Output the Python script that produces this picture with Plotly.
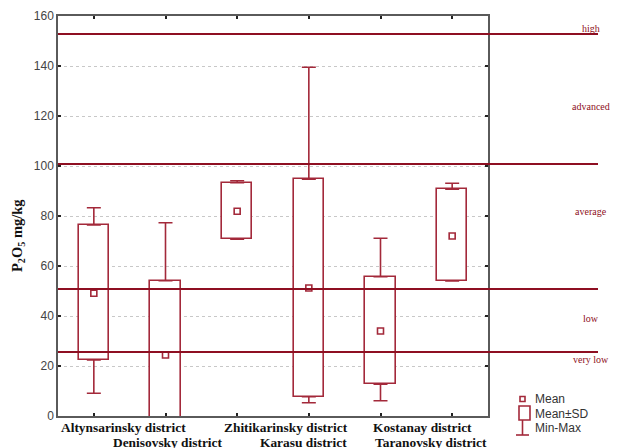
import plotly.graph_objects as go

# ---------------- data ----------------
districts = ["Altynsarinsky district", "Denisovsky district", "Zhitikarinsky district",
             "Karasu district", "Kostanay district", "Taranovsky district"]
mean_vals = [49.1, 24.4, 81.9, 51.2, 34.0, 72.0]
sd_lower = [22.4, -5.3, 70.7, 7.7, 12.7, 54.0]     # mean - SD
sd_upper = [76.4, 54.1, 93.3, 94.7, 55.7, 90.7]    # mean + SD
min_vals = [9.1, -5.3, 70.7, 5.3, 6.1, 54.0]
max_vals = [83.3, 77.3, 94.1, 139.5, 71.1, 93.1]

level_values = [152.8, 100.8, 50.8, 25.6]
level_names = ["high", "advanced", "average", "low", "very low"]
level_label_y = [155.2, 124.0, 82.0, 39.2, 22.8]

y_ticks = [0, 20, 40, 60, 80, 100, 120, 140, 160]

# ---------------- styling / layout ----------------
RED = "#a3293a"
DARKRED = "#8e0f22"
AXIS = "#5a5a5a"

# the page body adds an 8px offset; plot area in window: x 58..488, y 16..416
OFF = 8
PL, PT, PW, PH = 58, 16, 430, 400

# horizontal pixel shift of each category label relative to its tick (as in the original)
label_xshift = [30, 2.5, 49, -5, 42, -21]
label_row_y = [427.7, 442.0]

idx = list(range(len(districts)))

fig = go.Figure()

# Mean ± SD boxes
fig.add_trace(go.Bar(
    x=idx, y=[u - l for u, l in zip(sd_upper, sd_lower)], base=sd_lower,
    width=0.42, marker=dict(color="white", line=dict(color=RED, width=1.6)),
    showlegend=False, hoverinfo="skip"))

# upper whiskers (box top -> max)
fig.add_trace(go.Scatter(
    x=idx, y=sd_upper, mode="markers",
    marker=dict(size=1, color="rgba(0,0,0,0)"),
    error_y=dict(type="data", symmetric=False,
                 array=[max(0, mx - u) for mx, u in zip(max_vals, sd_upper)],
                 arrayminus=[0] * len(idx), color=RED, thickness=1.6, width=7),
    showlegend=False, hoverinfo="skip"))

# lower whiskers (box bottom -> min)
fig.add_trace(go.Scatter(
    x=idx, y=sd_lower, mode="markers",
    marker=dict(size=1, color="rgba(0,0,0,0)"),
    error_y=dict(type="data", symmetric=False,
                 array=[0] * len(idx),
                 arrayminus=[max(0, l - mn) for l, mn in zip(sd_lower, min_vals)],
                 color=RED, thickness=1.6, width=7),
    showlegend=False, hoverinfo="skip"))

# mean markers
fig.add_trace(go.Scatter(
    x=idx, y=mean_vals, mode="markers",
    marker=dict(symbol="square-open", size=6, color=RED, line=dict(width=1.6, color=RED)),
    showlegend=False, hoverinfo="skip"))


def px_x(p):
    return (p - PL) / PW


def px_y(p):
    return (PT + PH - p) / PH


# category labels (two staggered rows)
for i, d in enumerate(districts):
    fig.add_annotation(xref="x", yref="paper", x=i, y=px_y(label_row_y[i % 2]),
                       xshift=label_xshift[i], text="<b>" + d + "</b>",
                       showarrow=False, xanchor="center", yanchor="middle",
                       font=dict(family="Liberation Serif", size=13.4, color="#111"))

# level lines
for v in level_values:
    fig.add_shape(type="line", xref="paper", yref="y", x0=0, x1=px_x(598), y0=v, y1=v,
                  line=dict(color=DARKRED, width=2), layer="above")

for name, yv in zip(level_names, level_label_y):
    fig.add_annotation(xref="paper", yref="y", x=px_x(591), y=yv, text=name,
                       showarrow=False, xanchor="center", yanchor="middle",
                       font=dict(family="Liberation Serif", size=10, color=DARKRED))

# y-axis title
fig.add_annotation(xref="paper", yref="paper", x=px_x(18), y=px_y(236),
                   text="<b>P<sub>2</sub>O<sub>5</sub> mg/kg</b>", textangle=-90,
                   showarrow=False, xanchor="center", yanchor="middle",
                   font=dict(family="Liberation Serif", size=14.5, color="#111"))

# manual legend
fig.add_shape(type="rect", xref="paper", yref="paper",
              x0=px_x(520), x1=px_x(525), y0=px_y(401.5), y1=px_y(396.5),
              line=dict(color=RED, width=1.6))
fig.add_shape(type="rect", xref="paper", yref="paper",
              x0=px_x(519), x1=px_x(530), y0=px_y(420), y1=px_y(406),
              line=dict(color=RED, width=1.6))
fig.add_shape(type="line", xref="paper", yref="paper",
              x0=px_x(522.5), x1=px_x(522.5), y0=px_y(420), y1=px_y(435),
              line=dict(color=RED, width=1.6))
fig.add_shape(type="line", xref="paper", yref="paper",
              x0=px_x(516), x1=px_x(529), y0=px_y(435), y1=px_y(435),
              line=dict(color=RED, width=1.6))
for txt, yp in [("Mean", 399), ("Mean±SD", 413.5), ("Min-Max", 428)]:
    fig.add_annotation(xref="paper", yref="paper", x=px_x(533), y=px_y(yp), text=txt,
                       showarrow=False, xanchor="left", yanchor="middle",
                       font=dict(family="Liberation Sans", size=12, color="#333"))

fig.update_layout(
    width=618 - OFF, height=448 - OFF,
    margin=dict(l=PL - OFF, r=618 - PL - PW, t=PT - OFF, b=448 - PT - PH,
                autoexpand=False),
    paper_bgcolor="white", plot_bgcolor="white",
    bargap=0, showlegend=False,
)
fig.update_xaxes(
    range=[-0.5, 5.5], tickmode="array", tickvals=idx, showticklabels=False,
    showline=True, linecolor=AXIS, linewidth=1.5, mirror="ticks",
    ticks="inside", ticklen=3, tickcolor="#222", tickwidth=1.5,
    showgrid=False, zeroline=False, automargin=False,
)
fig.update_yaxes(
    range=[0, 160], tickvals=y_ticks,
    showline=True, linecolor=AXIS, linewidth=1.5, mirror="ticks",
    ticks="inside", ticklen=3, tickcolor="#222", tickwidth=1.5,
    showgrid=True, gridcolor="#c8c8c8", griddash="dot", gridwidth=1,
    zeroline=False, automargin=False,
    tickfont=dict(family="Liberation Sans", size=12, color="#444"),
)

fig.write_html("out.html")
